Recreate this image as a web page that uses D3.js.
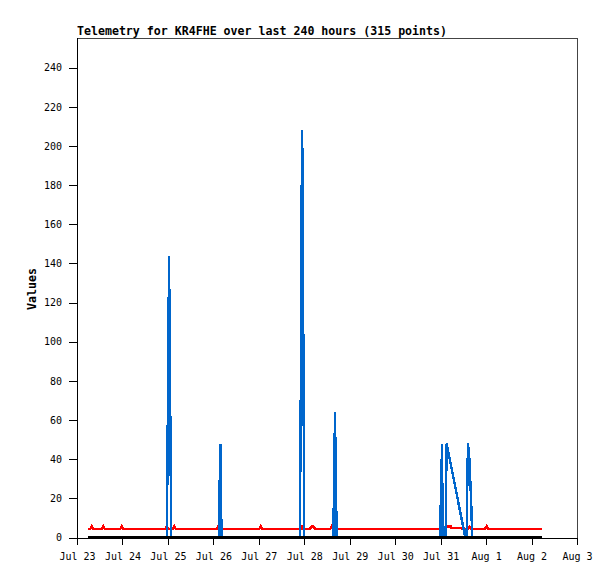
<!DOCTYPE html>
<html>
<head>
<meta charset="utf-8">
<script src="https://cdn.jsdelivr.net/npm/d3@7"></script>
<style>
  html, body { margin: 0; padding: 0; background: #fff; }
  svg { display: block; }
</style>
</head>
<body>
<svg id="chart" width="615" height="579"></svg>
<script>
// ---- Data (hours since Jul 23 00:00) ----
const startDate = Date.UTC(2024, 6, 23, 0, 0, 0);
const endDate   = Date.UTC(2024, 7, 3, 0, 0, 0);
const yTicks = [0, 20, 40, 60, 80, 100, 120, 140, 160, 180, 200, 220, 240];
const titleText = "Telemetry for KR4FHE over last 240 hours (315 points)";
const yLabel = "Values";

// black channel (flat zero)
const blackHours  = [5.9, 245.6];
const blackValues = [0, 0];

// red channel
const redHours  = [5.9, 7.0, 7.76, 8.5, 13.1, 13.89, 14.7, 22.8, 23.6, 24.4,
                   46.6, 47.36, 48.1, 50.6, 51.37, 52.1, 73.8, 74.6, 75.4,
                   96.2, 97.0, 97.8, 118.0, 118.8, 119.6, 123.1, 123.9, 124.8, 125.6,
                   133.7, 134.5, 135.3, 194.2, 194.8, 197.4, 197.8, 203.2, 203.6,
                   206.6, 207.4, 208.2, 215.5, 216.3, 217.1, 245.6];
const redValues = [4.4, 4.4, 5.6, 4.4, 4.4, 5.6, 4.4, 4.4, 5.6, 4.4,
                   4.4, 5.6, 4.4, 4.4, 5.6, 4.4, 4.4, 5.6, 4.4,
                   4.4, 5.6, 4.4, 4.4, 5.6, 4.4, 4.4, 5.6, 5.6, 4.4,
                   4.4, 5.6, 4.4, 4.4, 5.5, 5.5, 4.85, 4.85, 4.4,
                   4.4, 5.4, 4.4, 4.4, 5.6, 4.4, 4.4];

// blue channel
const blueHours  = [5.9, 47.5, 48.0, 48.6, 49.2, 49.7,
                    74.92, 75.24, 75.77, 76.3,
                    117.64, 118.06, 118.43, 118.91, 119.49, 119.96,
                    135.33, 135.8, 136.22, 136.65, 137.12,
                    191.82, 192.14, 192.77, 193.04,
                    194.62, 195.15, 205.02, 205.71, 206.4, 207.08, 207.61, 208.14, 208.67,
                    245.6];
const blueValues = [0, 0, 72, 144, 72, 0,
                    0, 24, 48, 0,
                    0, 52, 156, 208, 104, 0,
                    0, 32, 64, 32, 0,
                    0, 24, 48, 0,
                    0, 48, 0, 0, 48, 42, 30, 18, 0,
                    0];

// ---- Layout ----
const svg = d3.select("#chart");
const mLeft = 77, mRight = 577, mTop = 38, mBottom = 537.5;

const x = d3.scaleUtc().domain([startDate, endDate]).range([mLeft, mRight]);
const y = d3.scaleLinear().domain([0, 255.2]).range([mBottom, mTop]);

const toPts = (hs, vs) => hs.map((h, i) => ({ t: startDate + h * 3600 * 1000, v: vs[i] }));
const line = d3.line().x(d => x(d.t)).y(d => y(d.v));

const monoFont = "'DejaVu Sans Mono', 'Liberation Mono', monospace";

// frame (top & right, gray)
svg.append("path")
  .attr("d", `M${mLeft},${mTop + 0.5}H${mRight + 0.5}V${mBottom}`)
  .attr("fill", "none").attr("stroke", "#444").attr("stroke-width", 1)
  .attr("shape-rendering", "crispEdges");

// data
svg.append("path").datum(toPts(redHours, redValues))
  .attr("d", line).attr("fill", "none").attr("stroke", "#ff0000")
  .attr("stroke-width", 2.6).attr("stroke-linejoin", "miter")
  .attr("shape-rendering", "crispEdges");
svg.append("path").datum(toPts(blueHours, blueValues))
  .attr("d", line).attr("fill", "none").attr("stroke", "#0066cc")
  .attr("stroke-width", 2.4).attr("stroke-linejoin", "bevel")
  .attr("shape-rendering", "crispEdges");
svg.append("path").datum(toPts(blackHours, blackValues))
  .attr("d", line).attr("fill", "none").attr("stroke", "#000")
  .attr("stroke-width", 2.6).attr("shape-rendering", "crispEdges");

// axes
const xAxis = d3.axisBottom(x)
  .ticks(d3.utcDay.every(1))
  .tickFormat(d3.utcFormat("%b %-d"))
  .tickSize(7).tickSizeOuter(0).tickPadding(8);
const gx = svg.append("g").attr("transform", `translate(0,${mBottom})`).call(xAxis);

const yAxis = d3.axisLeft(y).tickValues(yTicks).tickSize(8).tickSizeOuter(0).tickPadding(7);
const gy = svg.append("g").attr("transform", `translate(${mLeft},0)`).call(yAxis);

[gx, gy].forEach(g => {
  g.selectAll("path.domain").attr("stroke", "#000").attr("shape-rendering", "crispEdges");
  g.selectAll(".tick line").attr("stroke", "#000").attr("shape-rendering", "crispEdges");
  g.selectAll(".tick text").attr("fill", "#000")
    .style("font-family", monoFont).style("font-size", "10px");
});
gy.select("path.domain").attr("d", `M0.5,${mTop}V${mBottom}`);
gx.select("path.domain").attr("d", `M${mLeft},0.5H${mRight}`);

// title
svg.append("text")
  .attr("x", mLeft).attr("y", 35)
  .style("font-family", monoFont).style("font-size", "11.6px").style("font-weight", "bold")
  .attr("textLength", 370).attr("lengthAdjust", "spacing")
  .attr("fill", "#000")
  .text(titleText);

// y label
svg.append("text")
  .attr("transform", `translate(36,289) rotate(-90)`)
  .attr("text-anchor", "middle")
  .style("font-family", monoFont).style("font-size", "11.6px").style("font-weight", "bold")
  .attr("fill", "#000")
  .text(yLabel);
</script>
</body>
</html>
